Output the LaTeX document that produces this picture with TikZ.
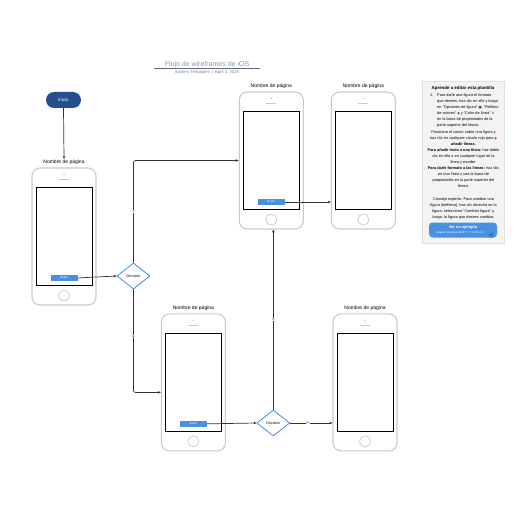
\documentclass[tikz,border=0pt]{standalone}
\usepackage{fontspec}
\setmainfont{Liberation Sans}
\newfontfamily\symf{DejaVu Sans}
\usetikzlibrary{shapes.geometric,arrows.meta,calc}
\definecolor{inicioblue}{HTML}{24508F}
\definecolor{btnblue}{HTML}{4A90E2}
\definecolor{diablue}{HTML}{3F8CF5}
\definecolor{phonegray}{HTML}{CACACA}
\definecolor{connc}{HTML}{333333}
\definecolor{titlec}{HTML}{8495AE}
\definecolor{panelc}{HTML}{F3F3F3}
\tikzset{
  phonebody/.style={draw=phonegray, line width=1.1pt, rounded corners=8pt, minimum width=64pt, minimum height=137pt, inner sep=0pt, fill=white},
  screenbox/.style={draw=black, line width=0.9pt, minimum width=56pt, minimum height=98pt, inner sep=0pt},
  homebtn/.style={circle, draw=phonegray, line width=0.7pt, minimum size=11pt, inner sep=0pt},
  spkdot/.style={circle, fill=phonegray, minimum size=1.6pt, inner sep=0pt},
  spkline/.style={draw=phonegray, line width=0.7pt},
  plabel/.style={font=\fontsize{5}{6}\selectfont, inner sep=0.5pt},
  btnbox/.style={fill=btnblue, minimum width=27pt, minimum height=6pt, inner sep=0pt, text=white, font=\fontsize{2.8}{3}\selectfont},
  startbox/.style={fill=inicioblue, rounded corners=8pt, minimum width=35pt, minimum height=16pt, inner sep=0pt, text=white, font=\fontsize{4.5}{5}\selectfont},
  decision/.style={diamond, draw=diablue, line width=0.8pt, fill=white, minimum width=33pt, minimum height=26pt, inner sep=0pt, aspect=1.27, font=\fontsize{3.6}{4}\selectfont},
  conn/.style={draw=connc, line width=0.7pt, rounded corners=2pt, -{Stealth[length=3pt,width=2.6pt]}},
  edgelbl/.style={fill=white, inner sep=0.4pt, font=\fontsize{2.6}{3}\selectfont, text=connc},
  paneltxt/.style={font=\fontsize{3.85}{6.1}\selectfont, inner sep=0pt},
}
\newcommand\drawphone[3]{%
  \node[phonebody] (#1) at (#2,#3) {};
  \node[screenbox] (#1scr) at (#1.center) {};
  \node[homebtn] (#1home) at ($(#1.south)+(0,-10)$) {};
  \node[spkdot] (#1dot) at ($(#1.north)+(0,7)$) {};
  \draw[spkline] ($(#1.north)+(-5,12)$) -- ($(#1.north)+(5,12)$);
  \node[plabel] (#1lbl) at ($(#1.north)+(0,-5.5)$) {Nombre de página};
}
\newcommand\drawbtn[1]{%
  \node[btnbox] (#1btn) at ($(#1scr.south)+(0,-8)$) {Botón};
}
\begin{document}
\begin{tikzpicture}[x=1pt,y=-1pt]
\useasboundingbox (0,0) rectangle (516,516);
\fill[white] (0,0) rectangle (516,516);

% title
\node[anchor=base, text=titlec, font=\fontsize{7}{8}\selectfont] (title) at (207,67) {Flujo de wireframes de iOS};
\draw[draw=titlec!70!black, line width=0.6pt] (154,68.8) -- (260,68.8);
\node[text=gray, font=\fontsize{4.3}{5}\selectfont] (subtitle) at (207,72.8) {System Templates \,|\, April 3, 2025};

% phones
\drawphone{pa}{64}{236.5}
\drawphone{pb}{271.3}{160.5}
\drawphone{pc}{363.4}{160.5}
\drawphone{pd}{193.4}{382.4}
\drawphone{pe}{365}{382.4}
\drawbtn{pa}
\drawbtn{pb}
\drawbtn{pd}

% start
\node[startbox] (start) at (63.5,100) {Inicio};

% decisions
\node[decision] (da) at (133.5,276) {Decisión};
\node[decision] (db) at (273.3,423) {Decisión};

% connectors
\draw[conn] (start.south) -- (palbl.north);
\draw[conn] (pabtn.east) -- (da.west);
\draw[conn] (da.north) |- node[edgelbl, pos=0.25] {Sí} (pb.west);
\draw[conn] (da.south) |- node[edgelbl, pos=0.227] {No} ($(pd.west)+(0,10)$);
\draw[conn] (pbbtn.east) -- (pbbtn.east -| pc.west);
\draw[conn] (pdbtn.east) -- (db.west);
\draw[conn] (db.north) -- node[edgelbl, pos=0.5] {Sí} (db.north |- pb.south);
\draw[conn] (db.east) -- node[edgelbl, pos=0.42] {No} (db.east -| pe.west);

% info panel
\node[fill=panelc, draw=gray!25, line width=0.3pt, minimum width=82pt, minimum height=162pt, inner sep=0pt] (panel) at (463,162) {};
\node[font=\bfseries\fontsize{4.4}{5}\selectfont] (ptitle) at (463,88) {Aprende a editar esta plantilla};
\node[paneltxt, anchor=north east] (pnum) at (433.5,93.5) {1.};
\node[paneltxt, anchor=north west, align=left] (pitem) at (437,93.5) {Para darle una figura el formato\\que desees, haz clic en ella y luego\\en ``Opciones de figura'' {\symf\fontsize{3.3}{4}\selectfont ▣}. ``Relleno\\de colores'' {\symf\fontsize{3.3}{4}\selectfont ◈} y ``Color de línea'' {\symf\fontsize{3.3}{4}\selectfont ✎}\\en la barra de propiedades de la\\parte superior del lienzo.};
\node[paneltxt, anchor=north, align=center] (ptext) at (463.5,130.1) {Posiciona el cursor sobre una figura y\\haz clic en cualquier círculo rojo para {\symf\color{red}\fontsize{2.6}{4}\selectfont ●}\\\textbf{añadir líneas.}\\\textbf{Para añadir texto a una línea:} haz doble\\clic en ella o en cualquier lugar de la\\línea y escribe.\\\textbf{Para darle formato a las líneas:} haz clic\\en una línea y usa la barra de\\propiedades en la parte superior del\\lienzo.\\[6.1pt]Consejo experto: Para cambiar una\\figura (teléfono), haz clic derecho en la\\figura, selecciona ``Cambiar figura'' y,\\luego, la figura que desees cambiar.};
\node[fill=btnblue, rounded corners=3.5pt, minimum width=68pt, minimum height=15pt, inner sep=0pt] (pbtn) at (463,230) {};
\node[text=white, font=\bfseries\fontsize{4}{4.5}\selectfont] (pbtnt) at (463,227.3) {Ver un ejemplo};
\node[text=white, font=\fontsize{2.8}{3}\selectfont] (pbtns) at (460,232.6) {(Atajos: presiona SHIFT + ? o Ctrl + /)};
\node[font=\symf\fontsize{7.5}{7.5}\selectfont] (hand) at (491,236) {☝};
\end{tikzpicture}
\end{document}
